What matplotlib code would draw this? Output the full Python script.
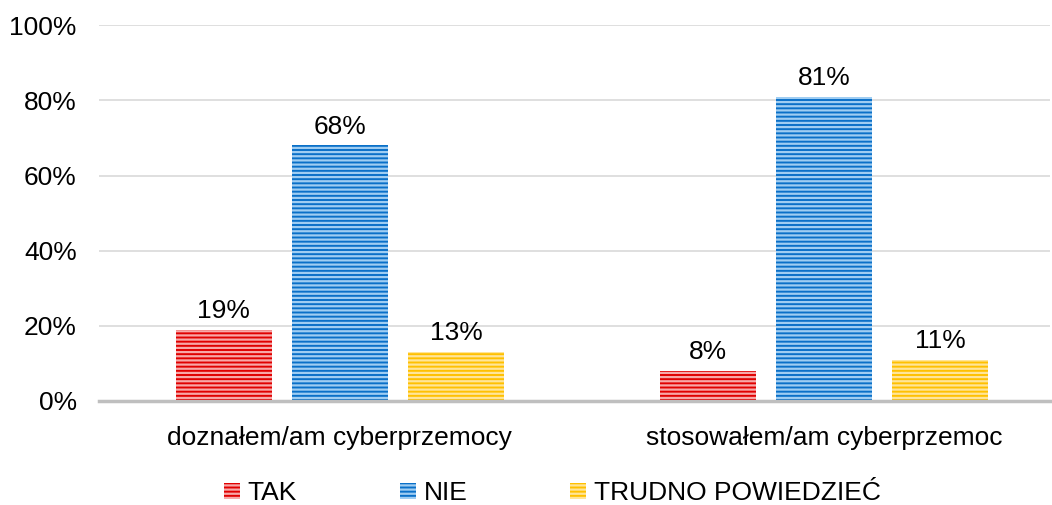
import matplotlib.pyplot as plt
from matplotlib.patches import Patch
import numpy as np

plt.rcParams["font.family"] = ["Liberation Sans", "DejaVu Sans"]
plt.rcParams["hatch.linewidth"] = 1.6

categories = ["doznałem/am cyberprzemocy", "stosowałem/am cyberprzemoc"]
series_names = ["TAK", "NIE", "TRUDNO POWIEDZIEĆ"]
tak = [19, 8]
nie = [68, 81]
trudno = [13, 11]
yticks = [0, 20, 40, 60, 80, 100]

base_colors = ["#E00000", "#0A70C8", "#FFC000"]
stripe_colors = ["#F7A8A8", "#9FCDF2", "#FFE599"]

fig = plt.figure(figsize=(10.52, 5.05), dpi=100)
ax = fig.add_axes([0.094, 0.206, 0.904, 0.744])

x = np.arange(len(categories))
width = 0.198
offsets = [-0.24, 0, 0.24]

for vals, off, col, stripe, name in zip([tak, nie, trudno], offsets, base_colors, stripe_colors, series_names):
    bars = ax.bar(x + off, vals, width, color=col, edgecolor=stripe, linewidth=0,
                  hatch="----", label=name, zorder=3)
    for b, v in zip(bars, vals):
        ax.text(b.get_x() + b.get_width() / 2, v + 1.8, f"{v}%", ha="center", va="bottom",
                fontsize=19, color="#000000")

ax.set_xlim(-0.498, 1.467)
ax.set_ylim(0, 100)
ax.set_yticks(yticks)
ax.set_yticklabels([f"{t}%" for t in yticks], fontsize=19)
ax.set_xticks(x)
ax.set_xticklabels(categories, fontsize=19)
ax.tick_params(axis="both", length=0)
ax.tick_params(axis="y", pad=16)
ax.tick_params(axis="x", pad=18)

ax.grid(axis="y", color="#D9D9D9", linewidth=1.2, zorder=0)
for side in ["top", "right", "left"]:
    ax.spines[side].set_visible(False)
ax.spines["bottom"].set_color("#BFBFBF")
ax.spines["bottom"].set_linewidth(2.5)
ax.spines["bottom"].set_zorder(4)

handles = [Patch(facecolor=c, edgecolor=s, linewidth=0, hatch="----")
           for c, s in zip(base_colors, stripe_colors)]
fig.legend(handles, series_names, loc="center", bbox_to_anchor=(0.525, 0.023), ncol=3,
           frameon=False, fontsize=19, handlelength=0.6, handleheight=0.6,
           handletextpad=0.3, columnspacing=3.9)

fig.savefig("out.png", dpi=100)
